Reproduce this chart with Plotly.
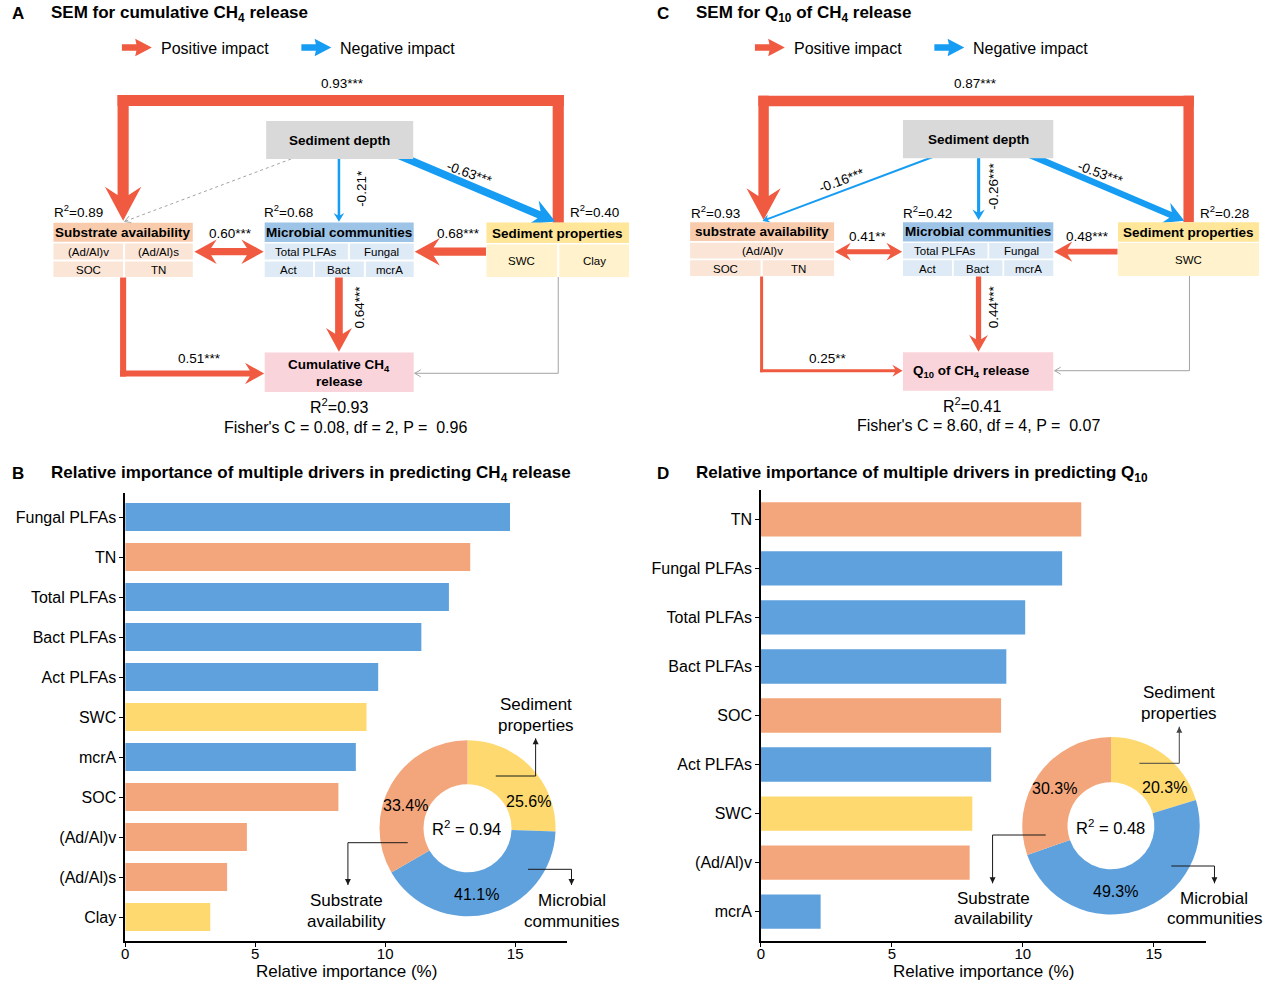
import math
import plotly.graph_objects as go

W, H = 1269, 985
FONT = "Liberation Sans, Arial, Helvetica, sans-serif"

# ------------------------------------------------------------------ data
# Panel B : relative importance for CH4 release
b_drivers = ['Fungal PLFAs', 'TN', 'Total PLFAs', 'Bact PLFAs', 'Act PLFAs', 'SWC',
             'mcrA', 'SOC', '(Ad/Al)v', '(Ad/Al)s', 'Clay']
b_importance = [14.8, 13.27, 12.45, 11.39, 9.73, 9.28, 8.87, 8.2, 4.68, 3.92, 3.27]
b_group = ['mic', 'sub', 'mic', 'mic', 'mic', 'sed', 'mic', 'sub', 'sub', 'sub', 'sed']

# Panel D : relative importance for Q10
d_drivers = ['TN', 'Fungal PLFAs', 'Total PLFAs', 'Bact PLFAs', 'SOC', 'Act PLFAs',
             'SWC', '(Ad/Al)v', 'mcrA']
d_importance = [12.23, 11.5, 10.09, 9.37, 9.17, 8.79, 8.07, 7.97, 2.28]
d_group = ['sub', 'mic', 'mic', 'mic', 'sub', 'mic', 'sed', 'sub', 'mic']

# donut insets
donut_keys = ['sed', 'mic', 'sub']
donut_names = ['Sediment properties', 'Microbial communities', 'Substrate availability']
b_share = [25.6, 41.1, 33.4]
d_share = [20.3, 49.3, 30.3]
b_r2 = 0.94
d_r2 = 0.48
x_ticks = [0, 5, 10, 15]

# SEM A (cumulative CH4 release)
a_coef = [0.93, -0.63, -0.21, 0.60, 0.68, 0.64, 0.51]
a_sig = ['***', '***', '*', '***', '***', '***', '***']
a_r2 = [0.89, 0.68, 0.40, 0.93]          # substrate, microbial, sediment props, response
a_fisher = [0.08, 2, 0.96]

# SEM C (Q10 of CH4 release)
c_coef = [0.87, -0.16, -0.26, -0.53, 0.41, 0.48, 0.44, 0.25]
c_sig = ['***', '***', '***', '***', '**', '***', '***', '**']
c_r2 = [0.93, 0.42, 0.28, 0.41]
c_fisher = [8.60, 4, 0.07]

# ------------------------------------------------------------------ styles
COL = {'mic': '#5FA1DC', 'sub': '#F3A67B', 'sed': '#FDD96F'}
RED = '#EF5A40'
BLUE = '#169CF3'
GRAY = '#A3A3A3'
SUB_H, SUB_C = '#F8CBAD', '#FBE5D6'
MIC_H, MIC_C = '#9DC3E6', '#DEEBF7'
SED_H, SED_C = '#FFE699', '#FFF2CC'
DEPTH = '#D9D9D9'
RESP = '#FAD4DB'

shapes = []
annotations = []


def pp(x, y):
    return x / W, 1 - y / H


def poly(points, color):
    s = ''
    for i, (x, y) in enumerate(points):
        px, py = pp(x, y)
        s += ('M' if i == 0 else 'L') + f'{px:.5f},{py:.5f} '
    s += 'Z'
    shapes.append(dict(type='path', path=s, xref='paper', yref='paper',
                       fillcolor=color, line=dict(width=0), layer='above'))


def polyline(points, color, width=1, dash='solid'):
    s = ''
    for i, (x, y) in enumerate(points):
        px, py = pp(x, y)
        s += ('M' if i == 0 else 'L') + f'{px:.5f},{py:.5f} '
    shapes.append(dict(type='path', path=s, xref='paper', yref='paper',
                       fillcolor='rgba(0,0,0,0)', line=dict(width=width, color=color, dash=dash),
                       layer='above'))


def rect(x0, y0, x1, y1, color):
    a = pp(x0, y0)
    b = pp(x1, y1)
    shapes.append(dict(type='rect', xref='paper', yref='paper', x0=a[0], x1=b[0],
                       y0=b[1], y1=a[1], fillcolor=color, line=dict(width=0), layer='above'))


def txt(x, y, text, size, bold=False, angle=0, xanchor='center', color='black'):
    px, py = pp(x, y)
    annotations.append(dict(x=px, y=py, xref='paper', yref='paper',
                            text=f'<b>{text}</b>' if bold else text, showarrow=False,
                            font=dict(size=size, color=color, family=FONT),
                            textangle=angle, xanchor=xanchor, yanchor='middle'))


def head_dims(w):
    Hw = 1.5 * w + 1.5
    L = 2.9 * w + 1.5
    return Hw, L, 0.35 * L


def straight_arrow(S, T, w, color, both=False, dims=None):
    (x0, y0), (x1, y1) = S, T
    dx, dy = x1 - x0, y1 - y0
    ln = math.hypot(dx, dy)
    ux, uy = dx / ln, dy / ln
    nx, ny = -uy, ux
    Hw, L, N = dims or head_dims(w)
    h = w / 2
    back = (L - N) + N * h / Hw

    def P(px, py, a, b):
        return (px + ux * a + nx * b, py + uy * a + ny * b)

    pts = [P(x1, y1, -back, h), P(x1, y1, -L, Hw), (x1, y1), P(x1, y1, -L, -Hw),
           P(x1, y1, -back, -h)]
    if both:
        pts += [P(x0, y0, back, -h), P(x0, y0, L, -Hw), (x0, y0), P(x0, y0, L, Hw),
                P(x0, y0, back, h)]
    else:
        pts += [P(x0, y0, 0, -h), P(x0, y0, 0, h)]
    poly(pts, color)


def path_arrow(points, w, color, both=False):
    h = w / 2
    n = len(points)
    for i in range(n - 2):
        (x0, y0), (x1, y1) = points[i], points[i + 1]
        ln = math.hypot(x1 - x0, y1 - y0)
        ux, uy = (x1 - x0) / ln, (y1 - y0) / ln
        nx, ny = -uy, ux
        es = h if i > 0 else 0
        a = (x0 - ux * es, y0 - uy * es)
        b = (x1 + ux * h, y1 + uy * h)
        poly([(a[0] + nx * h, a[1] + ny * h), (b[0] + nx * h, b[1] + ny * h),
              (b[0] - nx * h, b[1] - ny * h), (a[0] - nx * h, a[1] - ny * h)], color)
    (x0, y0), (x1, y1) = points[-2], points[-1]
    if n > 2:
        ln = math.hypot(x1 - x0, y1 - y0)
        ux, uy = (x1 - x0) / ln, (y1 - y0) / ln
        x0, y0 = x0 - ux * h, y0 - uy * h
    straight_arrow((x0, y0), (x1, y1), w, color, both=both)


def gray_path(points, dash='solid'):
    polyline(points, GRAY, 1, dash)
    (x0, y0), (x1, y1) = points[-2], points[-1]
    ln = math.hypot(x1 - x0, y1 - y0)
    ux, uy = (x1 - x0) / ln, (y1 - y0) / ln
    nx, ny = -uy, ux
    polyline([(x1 - ux * 6 + nx * 3.5, y1 - uy * 6 + ny * 3.5), (x1, y1),
              (x1 - ux * 6 - nx * 3.5, y1 - uy * 6 - ny * 3.5)], GRAY, 1)


def callout(points, color='#1A1A1A'):
    polyline(points, color, 1)
    (x0, y0), (x1, y1) = points[-2], points[-1]
    ln = math.hypot(x1 - x0, y1 - y0)
    ux, uy = (x1 - x0) / ln, (y1 - y0) / ln
    nx, ny = -uy, ux
    poly([(x1, y1), (x1 - ux * 6 + nx * 3, y1 - uy * 6 + ny * 3),
          (x1 - ux * 6 - nx * 3, y1 - uy * 6 - ny * 3)], color)


def wid(c):
    return 12 * abs(c)


def col(c):
    return RED if c > 0 else BLUE


def lab(c, s):
    return f'{c:.2f}{s}'


# ------------------------------------------------------------------ headers & legends
for dx, letter, title, by, blet, btitle in [
        (0, 'A', 'SEM for cumulative CH<sub>4</sub> release', 474, 'B',
         'Relative importance of multiple drivers in predicting CH<sub>4</sub> release'),
        (647, 'C', 'SEM for Q<sub>10</sub> of CH<sub>4</sub> release', 474, 'D',
         'Relative importance of multiple drivers in predicting Q<sub>10</sub>')]:
    txt(14 + dx, 14, letter, 17, bold=True)
    txt(45 + dx, 14, title, 17, bold=True, xanchor='left')
    txt(14 + dx, by, blet, 17, bold=True)
    txt(45 + dx, by, btitle, 17, bold=True, xanchor='left')

for dx in (0, 635):
    straight_arrow((118.3 + dx, 47.5), (148.3 + dx, 47.5), 6.7, RED, dims=(8.7, 16.7, 2))
    txt(155 + dx, 48.5, 'Positive impact', 16, xanchor='left')
    straight_arrow((298.3 + dx, 47.5), (328.3 + dx, 47.5), 6.7, BLUE, dims=(8.7, 16.7, 2))
    txt(335 + dx, 48.5, 'Negative impact', 16, xanchor='left')

# ------------------------------------------------------------------ SEM A
gray_path([(288, 159), (121, 221.5)], dash='dot')
gray_path([(556, 277), (556, 373.3), (412, 373.3)])
path_arrow([(556, 222.7), (556, 100.5), (119.5, 100.5), (119.5, 220.7)], wid(a_coef[0]), col(a_coef[0]))
straight_arrow((388, 152), (553, 221.5), wid(a_coef[1]), col(a_coef[1]))
straight_arrow((336, 159), (336, 221.7), wid(a_coef[2]), col(a_coef[2]))
straight_arrow((191, 251.7), (260.5, 251.7), wid(a_coef[3]), col(a_coef[3]), both=True)
straight_arrow((483.5, 251.7), (412, 251.7), wid(a_coef[4]), col(a_coef[4]))
straight_arrow((336, 277.5), (336, 351.7), wid(a_coef[5]), col(a_coef[5]))
path_arrow([(119.5, 277.5), (119.5, 373.5), (261, 373.5)], wid(a_coef[6]), col(a_coef[6]))

a_lab_pos = [(340, 83, 0), (467, 173, 20), (358, 188, -90), (227.7, 234, 0),
             (455.7, 234, 0), (357, 306.7, -90), (196, 358.7, 0)]
for (x, y, ang), c, s in zip(a_lab_pos, a_coef, a_sig):
    txt(x, y, lab(c, s), 13.5, angle=ang)

# boxes A
rect(263, 121, 410.5, 159, DEPTH)
txt(336.5, 140.5, 'Sediment depth', 13.5, bold=True)
rect(49.6, 222.7, 189.4, 241.7, SUB_H)
txt(119.5, 232.5, 'Substrate availability', 13.5, bold=True)
for (x0, y0, x1, y1, t) in [(49.6, 243.5, 119.5, 259.5, '(Ad/Al)v'), (121.5, 243.5, 189.4, 259.5, '(Ad/Al)s'),
                            (49.6, 261.5, 119.5, 277, 'SOC'), (121.5, 261.5, 189.4, 277, 'TN')]:
    rect(x0, y0, x1, y1, SUB_C)
    txt((x0 + x1) / 2, (y0 + y1) / 2 + 0.5, t, 11.5)
rect(261.5, 222.5, 411, 242, MIC_H)
txt(336.3, 232.5, 'Microbial communities', 13.5, bold=True)
for (x0, y0, x1, y1, t) in [(261.5, 243.5, 345, 259.5, 'Total PLFAs'), (347, 243.5, 411, 259.5, 'Fungal'),
                            (261.5, 261.5, 310, 277, 'Act'), (312, 261.5, 361, 277, 'Bact'),
                            (363, 261.5, 411, 277, 'mcrA')]:
    rect(x0, y0, x1, y1, MIC_C)
    txt((x0 + x1) / 2, (y0 + y1) / 2 + 0.5, t, 11.5)
rect(484, 222.5, 627, 243, SED_H)
txt(555.5, 233, 'Sediment properties', 13.5, bold=True)
for (x0, y0, x1, y1, t) in [(484, 244.5, 555, 277, 'SWC'), (557, 244.5, 627, 277, 'Clay')]:
    rect(x0, y0, x1, y1, SED_C)
    txt((x0 + x1) / 2, (y0 + y1) / 2 + 0.5, t, 11.5)
rect(261.5, 352.5, 411, 392, RESP)
txt(336.3, 365.5, 'Cumulative CH<sub>4</sub>', 13.5, bold=True)
txt(336.3, 381, 'release', 13.5, bold=True)

for (x, y), r in zip([(75, 211), (285, 211), (592, 211)], a_r2[:3]):
    txt(x, y, f'R<sup>2</sup>={r:.2f}', 13.5)
txt(336, 406, f'R<sup>2</sup>={a_r2[3]:.2f}', 16)
txt(342.7, 427.7, f"Fisher's C = {a_fisher[0]:.2f}, df = {a_fisher[1]}, P =  {a_fisher[2]:.2f}", 16)

# ------------------------------------------------------------------ SEM C
gray_path([(1189.2, 276), (1189.2, 370.7), (1054, 370.7)])
path_arrow([(1188.4, 222.3), (1188.4, 101), (762, 101), (762, 220)], wid(c_coef[0]), col(c_coef[0]))
straight_arrow((931.7, 157), (761, 221), wid(c_coef[1]), col(c_coef[1]))
straight_arrow((977.7, 158), (977.7, 220), wid(c_coef[2]), col(c_coef[2]))
straight_arrow((1022, 152), (1184, 220.7), wid(c_coef[3]), col(c_coef[3]))
straight_arrow((833.7, 251.7), (901, 251.7), wid(c_coef[4]), col(c_coef[4]), both=True)
straight_arrow((1117, 251.7), (1053.4, 251.7), wid(c_coef[5]), col(c_coef[5]))
straight_arrow((977.6, 276.5), (977.6, 351.7), wid(c_coef[6]), col(c_coef[6]))
path_arrow([(760, 276.5), (760, 370.7), (901.4, 370.7)], wid(c_coef[7]), col(c_coef[7]))

c_lab_pos = [(975, 83, 0), (840, 180, -20), (993.3, 186.7, -90), (1100, 173, 20),
             (866.5, 236.7, 0), (1087, 236.7, 0), (992.6, 306.7, -90), (826.3, 358.3, 0)]
for (x, y, ang), c, s in zip(c_lab_pos, c_coef, c_sig):
    txt(x, y, lab(c, s), 13.5, angle=ang)

rect(901.8, 120, 1052.6, 158.3, DEPTH)
txt(977.2, 139.5, 'Sediment depth', 13.5, bold=True)
rect(688.3, 222.3, 832.7, 241, SUB_H)
txt(760.5, 232, 'substrate availability', 13.5, bold=True)
for (x0, y0, x1, y1, t) in [(688.3, 242.8, 832.7, 258.5, '(Ad/Al)v'),
                            (688.3, 260.3, 759, 276, 'SOC'), (761, 260.3, 832.7, 276, 'TN')]:
    rect(x0, y0, x1, y1, SUB_C)
    txt((x0 + x1) / 2, (y0 + y1) / 2 + 0.5, t, 11.5)
rect(901.8, 222.3, 1052.6, 241.5, MIC_H)
txt(977.2, 232, 'Microbial communities', 13.5, bold=True)
for (x0, y0, x1, y1, t) in [(901.8, 243, 986.6, 258.5, 'Total PLFAs'), (988.3, 243, 1052.6, 258.5, 'Fungal'),
                            (901.8, 260.3, 951, 276, 'Act'), (952.8, 260.3, 1001.6, 276, 'Bact'),
                            (1003.3, 260.3, 1052.6, 276, 'mcrA')]:
    rect(x0, y0, x1, y1, MIC_C)
    txt((x0 + x1) / 2, (y0 + y1) / 2 + 0.5, t, 11.5)
rect(1117.5, 222.3, 1259, 241.7, SED_H)
txt(1188.3, 232.5, 'Sediment properties', 13.5, bold=True)
rect(1117.5, 243, 1259, 276, SED_C)
txt(1188.3, 260, 'SWC', 11.5)
rect(901.8, 352.3, 1052.6, 390.7, RESP)
txt(971, 371, 'Q<sub>10</sub> of CH<sub>4</sub> release', 13.5, bold=True)

for (x, y), r in zip([(713.8, 211.7), (926.7, 212), (1224, 211.7)], c_r2[:3]):
    txt(x, y, f'R<sup>2</sup>={r:.2f}', 13.5)
txt(970.8, 405, f'R<sup>2</sup>={c_r2[3]:.2f}', 16)
txt(977.6, 425, f"Fisher's C = {c_fisher[0]:.2f}, df = {c_fisher[1]}, P =  {c_fisher[2]:.2f}", 16)

# ------------------------------------------------------------------ bar charts
fig = go.Figure()
fig.add_trace(go.Bar(y=b_drivers, x=b_importance, orientation='h', width=0.7,
                     marker=dict(color=[COL[g] for g in b_group], line=dict(width=0)),
                     xaxis='x', yaxis='y', showlegend=False))
fig.add_trace(go.Bar(y=d_drivers, x=d_importance, orientation='h', width=0.7,
                     marker=dict(color=[COL[g] for g in d_group], line=dict(width=0)),
                     xaxis='x2', yaxis='y2', showlegend=False))


def pie_domain(cx, cy, r):
    return dict(x=[(cx - r) / W, (cx + r) / W], y=[1 - (cy + r) / H, 1 - (cy - r) / H])


fig.add_trace(go.Pie(values=b_share, labels=donut_names, hole=0.5, sort=False,
                     direction='clockwise', rotation=0, textinfo='none',
                     marker=dict(colors=[COL[k] for k in donut_keys], line=dict(width=0)),
                     domain=pie_domain(465, 828.3, 88.3), showlegend=False))
fig.add_trace(go.Pie(values=d_share, labels=donut_names, hole=0.49, sort=False,
                     direction='clockwise', rotation=0, textinfo='none',
                     marker=dict(colors=[COL[k] for k in donut_keys], line=dict(width=0)),
                     domain=pie_domain(1110.5, 825.8, 89), showlegend=False))

# donut labels (order: sed, mic, sub)
for (x, y), v in zip([(525.7, 801.7), (474.3, 894), (402.7, 805)], b_share):
    txt(x, y, f'{v:.1f}%', 16)
for (x, y), v in zip([(1164, 787.7), (1115, 891.7), (1054.3, 788.3)], d_share):
    txt(x, y, f'{v:.1f}%', 16)
txt(464.3, 828.3, f'R<sup>2</sup> = {b_r2:.2f}', 16.5)
txt(1110, 827.3, f'R<sup>2</sup> = {d_r2:.2f}', 16.5)

callout([(493.3, 776), (533.3, 776), (533.3, 738.3)])
callout([(405, 842.7), (345, 842.7), (345, 885)])
callout([(525.7, 869.3), (569.3, 869.3), (569.3, 885)])
txt(533.3, 704, 'Sediment', 17)
txt(533.3, 725, 'properties', 17)
txt(344, 900.7, 'Substrate', 17)
txt(344, 921.7, 'availability', 17)
txt(569.3, 900.7, 'Microbial', 17)
txt(569.3, 921.7, 'communities', 17)

callout([(1139, 763.3), (1179, 763.3), (1179, 726.7)], color='#444444')
callout([(1045, 835), (991.7, 835), (991.7, 883.3)])
callout([(1171, 866), (1214.3, 866), (1214.3, 883.3)])
txt(1178.3, 692.7, 'Sediment', 17)
txt(1178.3, 713.3, 'properties', 17)
txt(993, 898.3, 'Substrate', 17)
txt(993, 918.3, 'availability', 17)
txt(1214.3, 898.3, 'Microbial', 17)
txt(1214.3, 918.3, 'communities', 17)

# axis titles
txt(343.3, 971.5, 'Relative importance (%)', 17)
txt(982.6, 971.5, 'Relative importance (%)', 17)

xcommon = dict(range=[0, 17], tickvals=x_ticks, ticks='outside', ticklen=4, tickwidth=1.2,
               tickcolor='black', showline=True, linecolor='black', linewidth=1.5,
               showgrid=False, zeroline=False, tickfont=dict(size=15, color='black', family=FONT),
               ticklabelstandoff=-6, fixedrange=True)
ycommon = dict(type='category', categoryorder='array', ticks='outside', ticklen=4, tickwidth=1.2,
               tickcolor='black', showline=True, linecolor='black', linewidth=1.5,
               showgrid=False, zeroline=False, tickfont=dict(size=16, color='black', family=FONT),
               fixedrange=True)

fig.update_layout(
    width=W, height=H, margin=dict(l=0, r=0, t=0, b=0),
    paper_bgcolor='white', plot_bgcolor='white', showlegend=False,
    font=dict(family=FONT, color='black'),
    xaxis=dict(domain=[121.6 / W, 565 / W], anchor='y', **xcommon),
    yaxis=dict(domain=[1 - 941 / H, 1 - 493 / H], anchor='x', categoryarray=b_drivers[::-1],
               range=[-0.6, len(b_drivers) - 0.4], **ycommon),
    xaxis2=dict(domain=[759.3 / W, 1206 / W], anchor='y2', **xcommon),
    yaxis2=dict(domain=[1 - 941 / H, 1 - 490 / H], anchor='x2', categoryarray=d_drivers[::-1],
                range=[-0.6, len(d_drivers) - 0.4], **ycommon),
    shapes=shapes, annotations=annotations,
)

fig.write_html('out.html', config={'displayModeBar': False},
               post_script="document.body.style.margin='0px';document.body.style.padding='0px';"
                           "document.documentElement.style.overflow='hidden';")
